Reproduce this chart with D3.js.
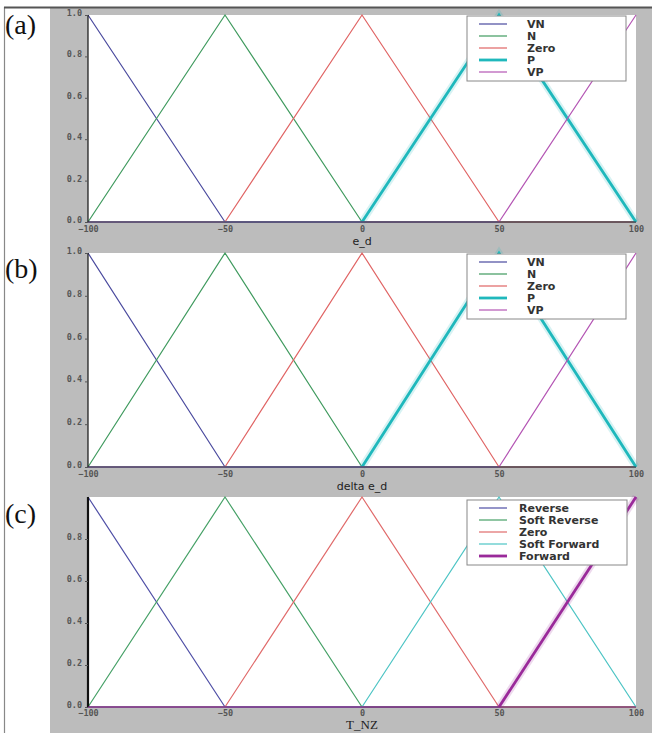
<!DOCTYPE html>
<html><head><meta charset="utf-8">
<script src="https://cdn.jsdelivr.net/npm/d3@7"></script>
<style>body{margin:0;background:#fff}svg{display:block}</style>
</head><body>
<svg id="chart" width="652" height="733"></svg>
<script>
// ---- data ----
const xTicks = [-100, -50, 0, 50, 100];
const yTicks = [0, 0.2, 0.4, 0.6, 0.8, 1.0];
const yTicksC = [0, 0.2, 0.4, 0.6, 0.8];
const namesAB = ["VN", "N", "Zero", "P", "VP"];
const namesC = ["Reverse", "Soft Reverse", "Zero", "Soft Forward", "Forward"];
const panelTags = ["(a)", "(b)", "(c)"];
const axisTitles = ["e_d", "delta e_d", "T_NZ"];

const xVN = [-100, -50, 100],          yVN = [1, 0, 0];
const xN = [-100, -50, 0, 100],        yN = [0, 1, 0, 0];
const xZero = [-100, -50, 0, 50, 100], yZero = [0, 0, 1, 0, 0];
const xP = [-100, 0, 50, 100],         yP = [0, 0, 1, 0];
const xVP = [-100, 50, 100],           yVP = [0, 0, 1];
const seriesX = [xVN, xN, xZero, xP, xVP];
const seriesY = [yVN, yN, yZero, yP, yVP];

// ---- style ----
const colorsAB = ["#4a4a9e", "#3f9a5e", "#e06464", "#1fb8bc", "#b455b4"];
const colorsC  = ["#4f4fa6", "#45a066", "#e06a6a", "#4cc4c4", "#9a2a9a"];
const thickAB = [false, false, false, true, false];
const thickC  = [false, false, false, false, true];

const svg = d3.select("#chart");
svg.append("rect").attr("x", 50).attr("y", 8).attr("width", 602).attr("height", 725).attr("fill", "#bcbcbc");
svg.append("line").attr("x1", 4.5).attr("x2", 4.5).attr("y1", 7).attr("y2", 733).attr("stroke", "#888").attr("stroke-width", 1.2);
svg.append("line").attr("x1", 4).attr("x2", 652).attr("y1", 7.5).attr("y2", 7.5).attr("stroke", "#555").attr("stroke-width", 2);

const panels = [
  {top: 15, bottom: 222, names: namesAB, colors: colorsAB, thick: thickAB, yt: yTicks, titleY: 245, titleFont: "DejaVu Sans", titleSize: 11, tagY: 34, legTop: 16, legW: 159, textX: 527, thickSpine: false, pad: 4},
  {top: 253, bottom: 467, names: namesAB, colors: colorsAB, thick: thickAB, yt: yTicks, titleY: 490, titleFont: "DejaVu Sans", titleSize: 11, tagY: 278, legTop: 254, legW: 159, textX: 527, thickSpine: false, pad: 4},
  {top: 497, bottom: 707, names: namesC, colors: colorsC, thick: thickC, yt: yTicksC, titleY: 729, titleFont: "Liberation Serif", titleSize: 13, tagY: 523, legTop: 500, legW: 160, textX: 519, thickSpine: true, pad: 3}
];

const left = 88, right = 636;
const x = d3.scaleLinear().domain([-100, 100]).range([left, right]);

panels.forEach((p, pi) => {
  const y = d3.scaleLinear().domain([0, 1]).range([p.bottom, p.top]);
  const g = svg.append("g");
  g.append("rect").attr("x", left).attr("y", p.top).attr("width", right - left).attr("height", p.bottom - p.top).attr("fill", "#fff");

  const line = d3.line().x(d => x(d[0])).y(d => y(d[1]));
  seriesX.forEach((xs, si) => {
    const pts = xs.map((v, i) => [v, seriesY[si][i]]);
    g.append("path").attr("d", line(pts)).attr("fill", "none")
      .attr("stroke", p.colors[si]).attr("stroke-width", 1.2);
    if (p.thick[si]) {
      const seg = pts.filter((d, i) => d[1] > 0 || (pts[i - 1] && pts[i - 1][1] > 0) || (pts[i + 1] && pts[i + 1][1] > 0));
      g.append("path").attr("d", line(seg)).attr("fill", "none")
        .attr("stroke", p.colors[si]).attr("stroke-width", 7).attr("stroke-opacity", 0.18);
      g.append("path").attr("d", line(seg)).attr("fill", "none")
        .attr("stroke", p.colors[si]).attr("stroke-width", 2.8);
    }
  });

  // spines
  g.append("line").attr("x1", left).attr("x2", left).attr("y1", p.top).attr("y2", p.bottom)
    .attr("stroke", "#111").attr("stroke-width", p.thickSpine ? 2.2 : 1.2);
  g.append("line").attr("x1", left).attr("x2", right).attr("y1", p.bottom).attr("y2", p.bottom)
    .attr("stroke", p.thickSpine ? "#7a2a7a" : "#334").attr("stroke-width", 1.2);

  // axes
  const ya = d3.axisLeft(y).tickValues(p.yt).tickFormat(d3.format(".1f")).tickSize(3).tickPadding(3);
  const yg = g.append("g").attr("transform", `translate(${left},0)`).call(ya);
  const xa = d3.axisBottom(x).tickValues(xTicks).tickFormat(d3.format("d")).tickSize(0).tickPadding(p.pad);
  const xg = g.append("g").attr("transform", `translate(0,${p.bottom})`).call(xa);
  [yg, xg].forEach(ax => {
    ax.select(".domain").remove();
    ax.selectAll(".tick line").attr("stroke", "#555");
    ax.selectAll("text").attr("font-family", "DejaVu Sans Mono").attr("font-size", 8.5)
      .attr("font-weight", "bold").attr("fill", "#555");
  });
  yg.selectAll("text").attr("dy", "0.05em");

  svg.append("text").attr("x", (left + right) / 2).attr("y", p.titleY).attr("text-anchor", "middle")
    .attr("font-family", p.titleFont).attr("font-size", p.titleSize).attr("fill", "#222")
    .text(axisTitles[pi]);

  svg.append("text").attr("x", 5).attr("y", p.tagY)
    .attr("font-family", "Liberation Serif").attr("font-size", 28).attr("fill", "#111")
    .text(panelTags[pi]);

  // legend
  const lg = svg.append("g");
  lg.append("rect").attr("x", 467).attr("y", p.legTop).attr("width", p.legW).attr("height", 65)
    .attr("fill", "#fff").attr("stroke", "#888").attr("stroke-width", 1);
  p.names.forEach((n, i) => {
    const yy = p.legTop + 8 + i * 12;
    lg.append("line").attr("x1", 479).attr("x2", 507).attr("y1", yy).attr("y2", yy)
      .attr("stroke", p.colors[i]).attr("stroke-width", p.thick[i] ? 2.8 : 1.2);
    lg.append("text").attr("x", p.textX).attr("y", yy + 4)
      .attr("font-family", "DejaVu Sans").attr("font-weight", "bold").attr("font-size", 11)
      .attr("fill", "#333").text(n);
  });
});
</script>
</body></html>
